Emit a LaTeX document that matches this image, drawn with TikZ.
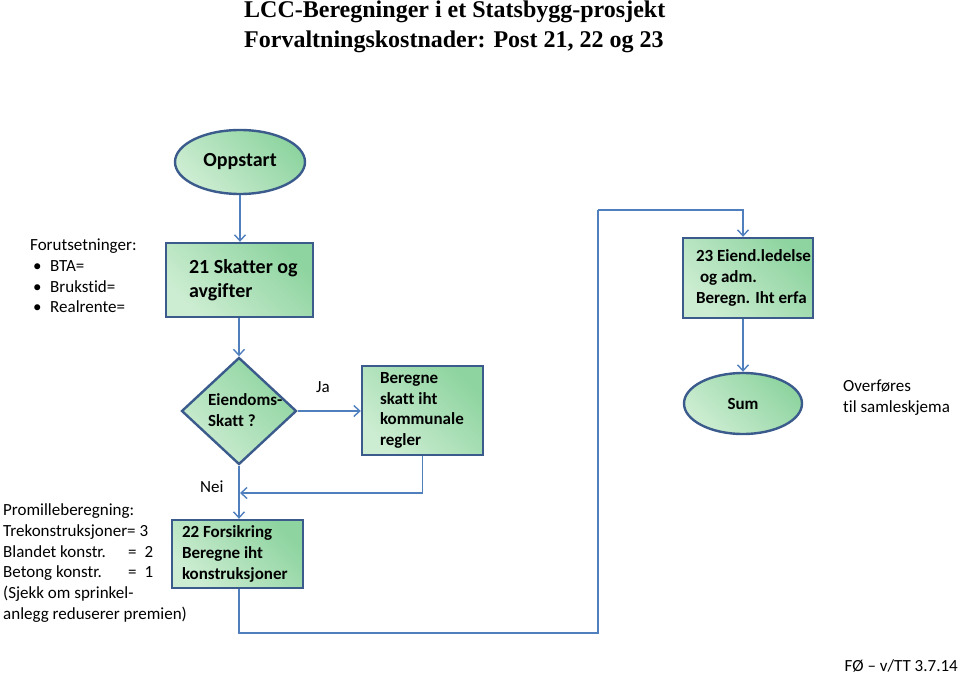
\documentclass[tikz,border=0pt]{standalone}
\usepackage{fontspec}
\setmainfont{Carlito}[Ligatures={NoCommon,NoContextual}]
\newfontfamily\titlefont{Liberation Serif}
\usetikzlibrary{shapes.geometric,arrows.meta}
\definecolor{bordc}{HTML}{3B5B8C}
\definecolor{linec}{HTML}{4F7FBD}
\definecolor{gdark}{HTML}{8ED4A0}
\definecolor{glight}{HTML}{CDEDD2}
\begin{document}
\begin{tikzpicture}[x=1pt,y=-1pt,
  greenfill/.style={shading=axis, top color=gdark, bottom color=glight, shading angle=-45, draw=bordc, line width=2.4pt},
  boxnode/.style={greenfill, rectangle, inner sep=0pt},
  ellnode/.style={greenfill, ellipse, inner sep=0pt},
  dianode/.style={greenfill, diamond, inner sep=0pt},
  txt/.style={inner sep=0pt, align=left, text=black},
  conn/.style={draw=linec, line width=1.4pt},
  arr/.style={conn, -{Straight Barb[length=6pt,width=11pt,line width=1.4pt]}},
  big/.style={font=\fontsize{20}{23.5}\selectfont\bfseries},
  mid/.style={font=\fontsize{17}{20.8}\selectfont\bfseries},
  reg/.style={font=\fontsize{17}{20.8}\selectfont}
]
\useasboundingbox (0,0) rectangle (960,676);

% title
\node[txt, anchor=north west, font=\titlefont\fontsize{24}{30}\selectfont\bfseries] (title) at (244,1)
  {LCC-Beregninger i et Statsbygg-prosjekt\\Forvaltningskostnader: Post 21, 22 og 23};

% nodes
\node[ellnode, minimum width=130pt, minimum height=64pt, big] (start) at (240,162) {Oppstart};

\node[boxnode, minimum width=147pt, minimum height=74pt] (b21) at (239.5,280) {};
\node[txt, anchor=west, big] (t21) at ([xshift=24pt]b21.west) {21 Skatter og\\avgifter};

\node[txt, anchor=west, reg] (forut) at (30,276)
  {Forutsetninger:\\
   \makebox[20pt][l]{\hspace*{3pt}•}BTA=\\
   \makebox[20pt][l]{\hspace*{3pt}•}Brukstid=\\
   \makebox[20pt][l]{\hspace*{3pt}•}Realrente=};

\node[dianode, minimum width=115pt, minimum height=107pt] (d) at (239,411) {};
\node[txt, anchor=west, mid] (td) at (208,410) {Eiendoms-\\Skatt ?};

\node[boxnode, minimum width=121pt, minimum height=89pt] (bk) at (422.5,410.5) {};
\node[txt, anchor=west, mid] (tk) at ([xshift=19pt]bk.west) {Beregne\\skatt iht\\kommunale\\regler};

\node[boxnode, minimum width=131pt, minimum height=68pt] (b22) at (237.5,554) {};
\node[txt, anchor=west, mid] (t22) at ([xshift=11pt]b22.west) {22 Forsikring\\Beregne iht\\konstruksjoner};

\node[boxnode, minimum width=130pt, minimum height=80pt] (b23) at (748,278) {};
\node[txt, anchor=west, mid] (t23) at ([xshift=14pt]b23.west) {23 Eiend.ledelse\\\hspace*{4pt}og adm.\\Beregn. Iht erfa};

\node[ellnode, minimum width=118pt, minimum height=61pt, font=\fontsize{17}{20.8}\selectfont\bfseries] (sum) at (743,403.5) {Sum};

\node[txt, anchor=west, reg] (over) at (843,398) {Overføres\\til samleskjema};

\node[txt, anchor=west, reg] (prom) at (3,563)
  {Promilleberegning:\\
   Trekonstruksjoner= 3\\
   \makebox[125pt][l]{Blandet konstr.}=\hspace{8pt}2\\
   \makebox[125pt][l]{Betong konstr.}=\hspace{8pt}1\\
   (Sjekk om sprinkel-\\
   anlegg reduserer premien)};

\node[txt, anchor=west, reg] (ja) at (316,387) {Ja};
\node[txt, anchor=west, reg] (nei) at (200,487) {Nei};

\node[txt, anchor=east, reg] (sign) at (958,666) {FØ – v/TT 3.7.14};

% coordinates
\coordinate (c1) at (598,633);
\coordinate (c2) at (598,210);
\coordinate (c3) at (240,493);

% connectors
\draw[arr] (start.south) -- (b21.north -| start.south);
\draw[arr] (b21.south -| d.north) -- (d.north);
\draw[arr] (d.east) -- (bk.west |- d.east);
\draw[arr] (bk.south) |- (c3);
\draw[arr] (d.south) -- (b22.north -| d.south);
\draw[conn] (b22.south -| d.south) |- (c1) -- (c2);
\draw[arr] (c2) -| (sum.north |- b23.north);
\draw[arr] (sum.north |- b23.south) -- (sum.north);
\end{tikzpicture}
\end{document}
